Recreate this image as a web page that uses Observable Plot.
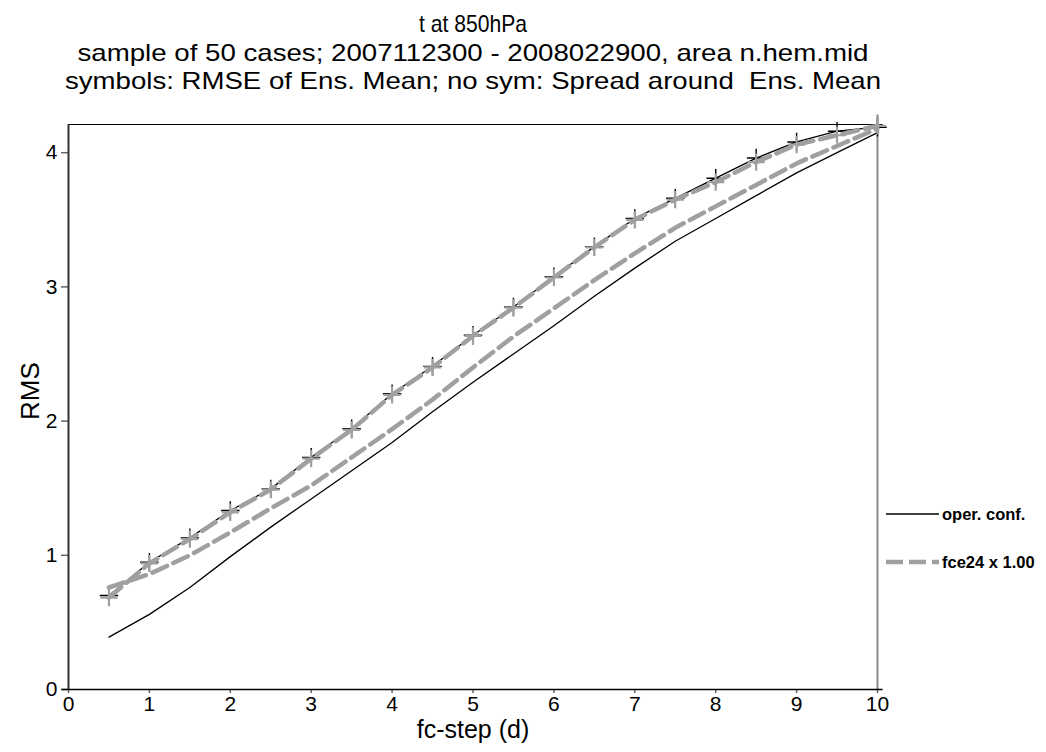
<!DOCTYPE html>
<html>
<head>
<meta charset="utf-8">
<script src="https://cdn.jsdelivr.net/npm/d3@7"></script>
<script src="https://cdn.jsdelivr.net/npm/@observablehq/plot@0.6"></script>
<style>
  html, body { margin: 0; padding: 0; background: white; }
  #chart { width: 1046px; height: 752px; }
</style>
</head>
<body>
<div id="chart"></div>
<script>
const steps = [0.5, 1, 1.5, 2, 2.5, 3, 3.5, 4, 4.5, 5, 5.5, 6, 6.5, 7, 7.5, 8, 8.5, 9, 9.5, 10];
const operRmse   = [0.70, 0.948, 1.13, 1.334, 1.495, 1.73, 1.943, 2.204, 2.408, 2.64, 2.85, 3.075, 3.30, 3.51, 3.66, 3.81, 3.96, 4.08, 4.16, 4.19];
const fceRmse    = [0.685, 0.94, 1.12, 1.32, 1.49, 1.72, 1.935, 2.195, 2.40, 2.635, 2.845, 3.07, 3.295, 3.50, 3.65, 3.78, 3.93, 4.06, 4.13, 4.20];
const operSpread = [0.39, 0.56, 0.76, 0.99, 1.21, 1.42, 1.63, 1.84, 2.07, 2.29, 2.50, 2.71, 2.93, 3.14, 3.34, 3.51, 3.68, 3.85, 4.00, 4.15];
const fceSpread  = [0.76, 0.86, 1.00, 1.17, 1.35, 1.52, 1.73, 1.94, 2.16, 2.40, 2.63, 2.84, 3.05, 3.25, 3.44, 3.60, 3.76, 3.92, 4.05, 4.18];
const xTicks = [0, 1, 2, 3, 4, 5, 6, 7, 8, 9, 10];
const yTicks = [0, 1, 2, 3, 4];
const titleLines = [
  "t at 850hPa",
  "sample of 50 cases; 2007112300 - 2008022900, area n.hem.mid",
  "symbols: RMSE of Ens. Mean; no sym: Spread around  Ens. Mean"
];
const seriesNames = ["oper. conf.", "fce24 x 1.00"];
const xLabel = "fc-step (d)";
const yLabel = "RMS";

const rows = arr => steps.map((x, i) => ({x, y: arr[i]}));
const GRAY = "#a0a0a0";
const FONT = "'Liberation Sans', Arial, Helvetica, sans-serif";

const chart = Plot.plot({
  width: 1046,
  height: 752,
  marginTop: 124,
  marginLeft: 68,
  marginRight: 169,
  marginBottom: 63,
  style: {fontFamily: FONT, fontSize: "20px", background: "white", color: "black", overflow: "visible"},
  x: {domain: [0, 10]},
  y: {domain: [0, 4.21]},
  marks: [
    Plot.axisY(yTicks, {tickSize: 7, tickPadding: 4, stroke: "#666", strokeWidth: 1.5, fontSize: 21, tickFormat: d3.format("d"), label: null}),
    Plot.axisX(xTicks, {tickSize: 4, tickPadding: 3, stroke: "#666", strokeWidth: 1.5, fontSize: 21, tickFormat: d3.format("d"), label: null}),
    Plot.ruleY([4.21], {x1: 0, x2: 10.07, stroke: "black", strokeWidth: 1.2}),
    Plot.ruleX([10], {y1: 0, y2: 4.28, stroke: "#888", strokeWidth: 2}),
    Plot.ruleX([0], {stroke: "#333", strokeWidth: 2}),
    Plot.ruleY([0], {x1: -0.08, x2: 10.07, stroke: "black", strokeWidth: 1.5}),
    Plot.line(rows(operSpread), {x: "x", y: "y", stroke: "black", strokeWidth: 1.3}),
    Plot.line(rows(operRmse), {x: "x", y: "y", stroke: "black", strokeWidth: 1.3}),
    Plot.dot(rows(operRmse), {x: "x", y: "y", symbol: "plus", r: 6, stroke: "black", strokeWidth: 1.4}),
    Plot.line(rows(fceSpread), {x: "x", y: "y", stroke: GRAY, strokeWidth: 4.5, strokeDasharray: "16,7"}),
    Plot.line(rows(fceRmse), {x: "x", y: "y", stroke: GRAY, strokeWidth: 4.5, strokeDasharray: "16,7"}),
    Plot.dot(rows(fceRmse), {x: "x", y: "y", symbol: "plus", r: 5.6, stroke: GRAY, strokeWidth: 2.2}),
    Plot.text([titleLines[0]], {text: d => d, frameAnchor: "top", dy: -93, lineAnchor: "bottom", fontSize: 24}),
    Plot.text([titleLines[1]], {text: d => d, frameAnchor: "top", dy: -64, lineAnchor: "bottom", fontSize: 24}),
    Plot.text([titleLines[2]], {text: d => d, frameAnchor: "top", dy: -36, lineAnchor: "bottom", fontSize: 24}),
    Plot.text([yLabel], {text: d => d, frameAnchor: "left", rotate: -90, dx: -38, dy: 13, fontSize: 26}),
    Plot.text([xLabel], {text: d => d, frameAnchor: "bottom", dy: 48, fontSize: 25})
  ]
});

document.getElementById("chart").appendChild(chart);

// stretch title lines to the reference widths (narrow look of the original)
const titleWidths = [108, 791, 816];
d3.select(chart).selectAll("text").each(function() {
  const i = titleLines.indexOf(this.textContent);
  if (i >= 0) {
    d3.select(this).attr("textLength", titleWidths[i]).attr("lengthAdjust", "spacingAndGlyphs");
  }
});

// legend in the right margin
const svg = d3.select(chart);
const lg = svg.append("g").attr("font-family", FONT).attr("font-size", 16.5).attr("font-weight", "bold").attr("text-anchor", "start");
const legendItems = [
  {name: seriesNames[0], y: 514, stroke: "black", width: 1.3, dash: null},
  {name: seriesNames[1], y: 562, stroke: GRAY, width: 4.5, dash: "17,6"}
];
legendItems.forEach(it => {
  lg.append("line").attr("x1", 886).attr("x2", 939).attr("y1", it.y).attr("y2", it.y)
    .attr("stroke", it.stroke).attr("stroke-width", it.width).attr("stroke-dasharray", it.dash);
  lg.append("text").attr("x", 942).attr("y", it.y).attr("dy", "0.36em").attr("fill", "black")
    .attr("text-anchor", "start").text(it.name);
});
</script>
</body>
</html>
